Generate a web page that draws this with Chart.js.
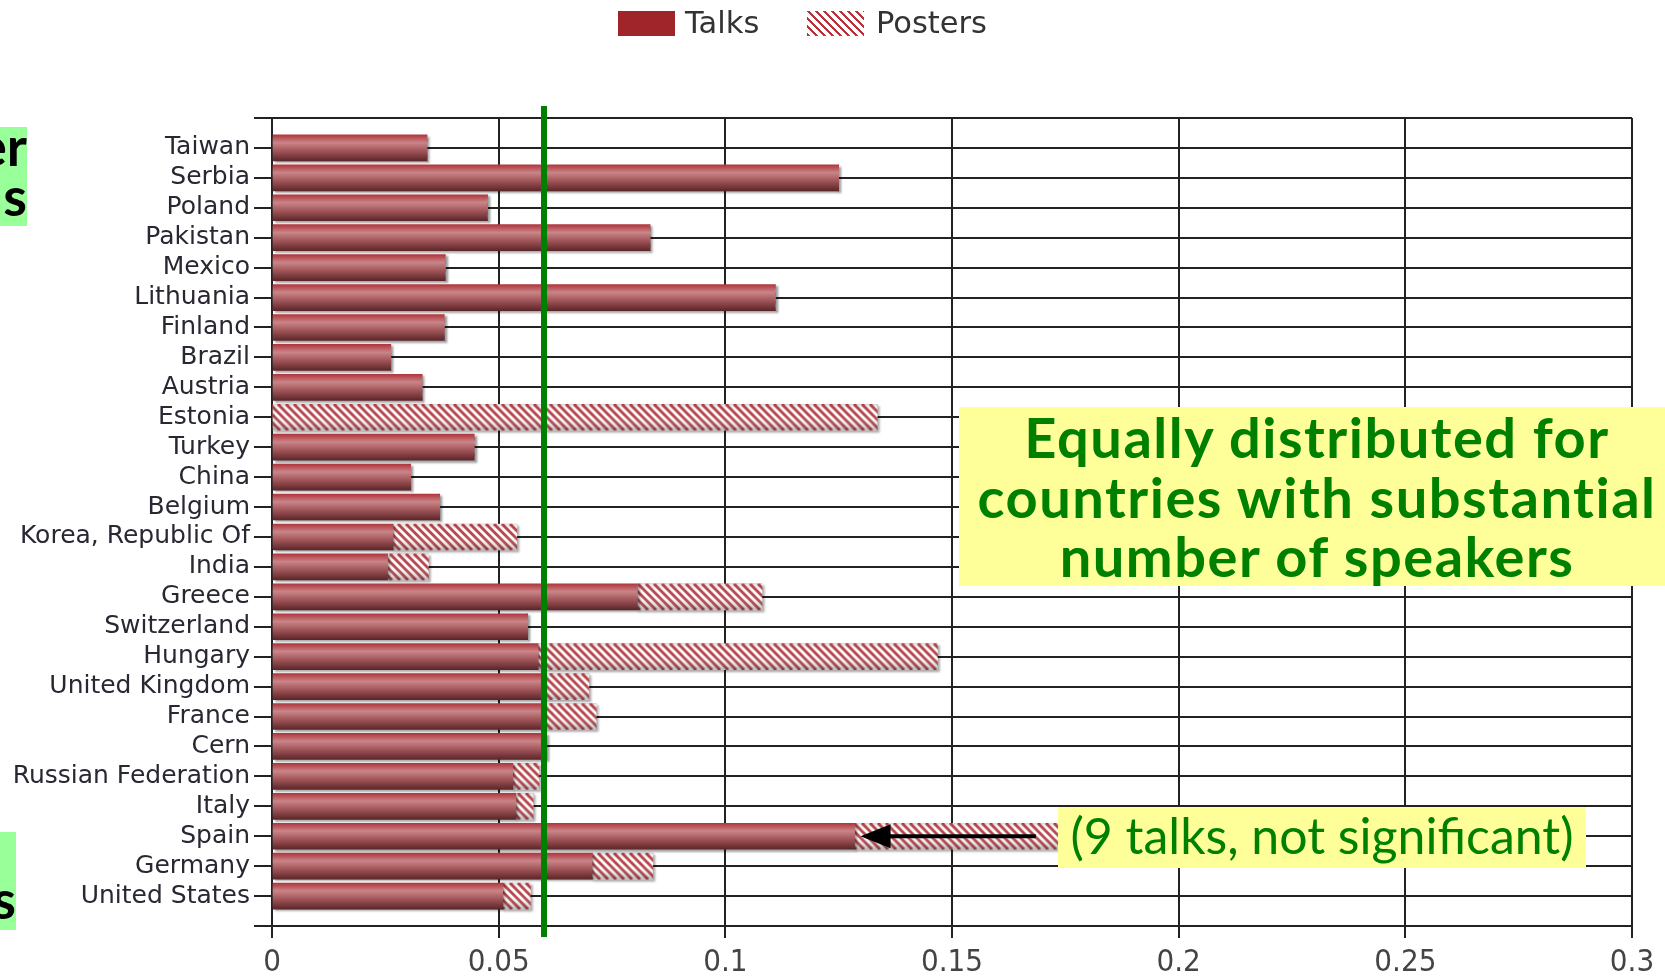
<!DOCTYPE html>
<html>
<head>
<meta charset="utf-8">
<title>Talks / Posters por país</title>
<script src="https://cdn.jsdelivr.net/npm/chart.js@4.4.1/dist/chart.umd.min.js"></script>
<style>
    html, body { margin: 0; padding: 0; background: #fff; overflow: hidden; }
    #lienzo { position: relative; width: 1665px; height: 976px; overflow: hidden; }
    #grafico { position: absolute; left: 0; top: 0; }
    .muestra { position: absolute; top: 11px; width: 57px; height: 25px; }
    .texto-leyenda { position: absolute; top: 4px; font: 30.5px "DejaVu Sans", sans-serif; color: #333; line-height: 38px; }
    #muestraCharlas { left: 618px; background: #a0252b; }
    #muestraPosters { left: 807px; background: repeating-linear-gradient(45deg, #b5353c 0 2.8px, #fff 2.8px 5.66px); }
    .verde { position: absolute; left: -300px; background: #99ff99; text-align: right; color: #000; font: bold 54px Lato, sans-serif; line-height: 50px; white-space: nowrap; }
    .verde div { position: relative; }
    .nota { position: absolute; background: #ffff99; color: #008000; text-align: center; font-family: Lato, sans-serif; white-space: nowrap; }
    #notaGrande { left: 959px; top: 407px; width: 716px; height: 179px; font-size: 56px; font-weight: bold; letter-spacing: 1.5px; line-height: 59.5px; padding-top: 0; box-sizing: border-box; }
    #notaEspana { left: 1058px; top: 807px; width: 528px; height: 61px; font-size: 50px; line-height: 56px; }
</style>
</head>
<body>
<div id="lienzo">
    <canvas id="grafico" width="1665" height="976"></canvas>

    <div class="muestra" id="muestraCharlas"></div>
    <div class="texto-leyenda" style="left:685px">Talks</div>
    <div class="muestra" id="muestraPosters"></div>
    <div class="texto-leyenda" style="left:876px">Posters</div>

    <div class="verde" style="top:127px; width:327px; height:99px;"><div style="top:-6px">er<br>s</div></div>
    <div class="verde" style="top:832px; width:316px; height:98px;"><div style="top:-8px">&nbsp;<br>s</div></div>

    <div class="nota" id="notaGrande">Equally distributed for<br>countries with substantial<br>number of speakers</div>
    <div class="nota" id="notaEspana">(9 talks, not significant)</div>
</div>

<script>
const paises = ['Taiwan', 'Serbia', 'Poland', 'Pakistan', 'Mexico', 'Lithuania', 'Finland', 'Brazil', 'Austria',
    'Estonia', 'Turkey', 'China', 'Belgium', 'Korea, Republic Of', 'India', 'Greece', 'Switzerland', 'Hungary',
    'United Kingdom', 'France', 'Cern', 'Russian Federation', 'Italy', 'Spain', 'Germany', 'United States'];
const charlas = [0.0342, 0.125, 0.0475, 0.0834, 0.0382, 0.111, 0.038, 0.0262, 0.0331,
    0, 0.0446, 0.0306, 0.037, 0.0267, 0.0255, 0.0806, 0.0564, 0.0587,
    0.0601, 0.0601, 0.0606, 0.0531, 0.0538, 0.1285, 0.0706, 0.0509];
const posters = [0, 0, 0, 0, 0, 0, 0, 0, 0,
    0.1335, 0, 0, 0, 0.0273, 0.009, 0.0275, 0, 0.0881,
    0.0098, 0.0114, 0, 0.0058, 0.0038, 0.075, 0.0134, 0.0061];
const ticksX = [0, 0.05, 0.1, 0.15, 0.2, 0.25, 0.3];
const mediaGeneral = 0.06;

// una fila vacía arriba y otra abajo, como en el original
const etiquetas = ['', ...paises, ''];
const GROSOR = 26;

function bordeSuperior(ctx) {
    const ejeY = ctx.chart.scales.y;
    if (!ejeY || ctx.type !== 'data') return null;
    return ejeY.getPixelForValue(ctx.dataIndex) - GROSOR / 2;
}

function colorCharlas(ctx) {
    const arriba = bordeSuperior(ctx);
    if (arriba === null || isNaN(arriba)) return '#a0252b';
    const g = ctx.chart.ctx.createLinearGradient(0, arriba, 0, arriba + GROSOR);
    g.addColorStop(0, '#b0363d');
    g.addColorStop(0.3, '#c98588');
    g.addColorStop(0.6, '#a3575b');
    g.addColorStop(1, '#5c2629');
    return g;
}

const tilePosters = document.createElement('canvas');
tilePosters.width = 8;
tilePosters.height = GROSOR;
(function () {
    const c = tilePosters.getContext('2d');
    c.fillStyle = '#fff';
    c.fillRect(0, 0, 8, GROSOR);
    c.strokeStyle = '#b8454c';
    c.lineWidth = 3;
    for (let k = -GROSOR - 16; k <= 24; k += 8) {
        c.beginPath();
        c.moveTo(k, 0);
        c.lineTo(k + GROSOR, GROSOR);
        c.stroke();
    }
    const s = c.createLinearGradient(0, 0, 0, GROSOR);
    s.addColorStop(0, 'rgba(120,40,40,0.15)');
    s.addColorStop(0.4, 'rgba(255,255,255,0)');
    s.addColorStop(1, 'rgba(60,40,40,0.35)');
    c.fillStyle = s;
    c.fillRect(0, 0, 8, GROSOR);
})();

function colorPosters(ctx) {
    const arriba = bordeSuperior(ctx);
    const pat = ctx.chart.ctx.createPattern(tilePosters, 'repeat');
    if (arriba !== null && !isNaN(arriba)) {
        pat.setTransform(new DOMMatrix([1, 0, 0, 1, 0, arriba]));
    }
    return pat;
}

const extras = {
    id: 'extras',
    beforeDatasetsDraw(chart) {
        const c = chart.ctx;
        c.save();
        c.shadowColor = 'rgba(0,0,0,0.35)';
        c.shadowOffsetX = 2;
        c.shadowOffsetY = 2;
        c.shadowBlur = 2;
    },
    afterDatasetsDraw(chart) {
        const c = chart.ctx;
        c.restore();
        const ejeX = chart.scales.x;
        const ejeY = chart.scales.y;
        const area = chart.chartArea;

        // línea verde de la media
        const xm = ejeX.getPixelForValue(mediaGeneral);
        c.save();
        c.strokeStyle = '#008000';
        c.lineWidth = 6;
        c.beginPath();
        c.moveTo(xm, area.top - 12);
        c.lineTo(xm, area.bottom + 11);
        c.stroke();

        // flecha hacia España
        const i = etiquetas.indexOf('Spain');
        const yE = ejeY.getPixelForValue(i);
        const punta = ejeX.getPixelForValue(charlas[i - 1]) + 6;
        const cola = ejeX.getPixelForValue(0.1685);
        c.strokeStyle = '#000';
        c.fillStyle = '#000';
        c.lineWidth = 4;
        c.beginPath();
        c.moveTo(cola, yE);
        c.lineTo(punta + 24, yE);
        c.stroke();
        c.beginPath();
        c.moveTo(punta, yE);
        c.lineTo(punta + 30, yE - 12);
        c.lineTo(punta + 30, yE + 12);
        c.closePath();
        c.fill();
        c.restore();
    }
};

const lineaGris = '#222';

new Chart(document.getElementById('grafico').getContext('2d'), {
    type: 'bar',
    data: {
        labels: etiquetas,
        datasets: [
            {
                label: 'Talks',
                data: [null, ...charlas, null],
                backgroundColor: colorCharlas,
                borderWidth: 0,
                barThickness: GROSOR
            },
            {
                label: 'Posters',
                data: [null, ...posters, null],
                backgroundColor: colorPosters,
                borderWidth: 0,
                barThickness: GROSOR
            }
        ]
    },
    options: {
        indexAxis: 'y',
        responsive: false,
        animation: false,
        layout: { padding: { top: 118, right: 33, bottom: 0, left: 0 } },
        plugins: {
            legend: { display: false },
            tooltip: { enabled: false }
        },
        scales: {
            x: {
                type: 'linear',
                stacked: true,
                min: 0,
                max: 0.3,
                afterBuildTicks: (s) => { s.ticks = ticksX.map(v => ({ value: v })); },
                afterFit: (s) => { s.height = 50; },
                grid: { color: lineaGris, lineWidth: 2, tickLength: 12 },
                border: { color: lineaGris, width: 2 },
                ticks: {
                    padding: 6,
                    color: '#444',
                    font: { family: "'Liberation Sans Narrow', 'DejaVu Sans Condensed', sans-serif", size: 31 },
                    callback: (v) => String(v)
                }
            },
            y: {
                type: 'category',
                stacked: true,
                offset: false,
                min: 0,
                max: etiquetas.length - 1,
                afterFit: (s) => { s.width = 272; },
                grid: { offset: false, color: lineaGris, lineWidth: 2, tickLength: 18 },
                border: { color: lineaGris, width: 2 },
                ticks: {
                    autoSkip: false,
                    padding: 4,
                    color: '#2a2632',
                    font: { family: "'DejaVu Sans', sans-serif", size: 25 }
                }
            }
        }
    },
    plugins: [extras]
});
</script>
</body>
</html>
